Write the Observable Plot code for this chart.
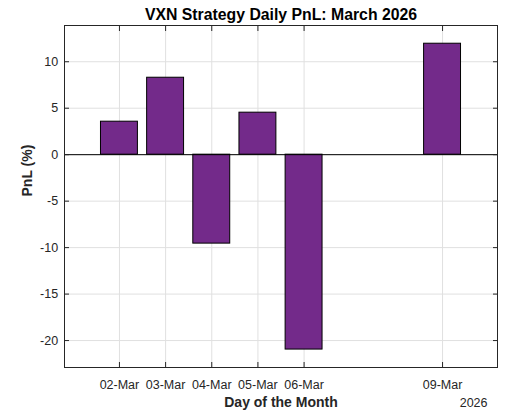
<!DOCTYPE html>
<html>
<head>
<meta charset="utf-8">
<script src="https://cdn.jsdelivr.net/npm/d3@7"></script>
<script src="https://cdn.jsdelivr.net/npm/@observablehq/plot@0.6"></script>
<style>
  html, body { margin: 0; padding: 0; background: #fff; }
  svg { display: block; }
</style>
</head>
<body>
<div id="chart"></div>
<script>
// ---- data ----
const days = ["2026-03-02", "2026-03-03", "2026-03-04", "2026-03-05", "2026-03-06", "2026-03-09"];
const pnl = [3.55, 8.28, -9.57, 4.52, -20.97, 11.94];
const yTicks = [-20, -15, -10, -5, 0, 5, 10];
const xDomain = ["2026-02-28T19:26Z", "2026-03-10T04:34Z"];
const yDomain = [-22.9, 13.9];
const title = "VXN Strategy Daily PnL: March 2026";
const xLabel = "Day of the Month";
const yLabel = "PnL (%)";
const yearLabel = "2026";

// ---- build ----
const toDate = (d) => new Date(d + "T00:00Z");
const data = days.map((d, i) => ({date: toDate(d), value: pnl[i]}));
const tickDates = days.map(toDate);
const halfBar = 0.4 * 864e5; // bar width = 0.8 day

const font = "'Liberation Sans', Arial, Helvetica, sans-serif";
const axisColor = "#262626";
const gridColor = "#e0e0e0";
const barColor = "#732a8a";

const chart = Plot.plot({
  width: 531,
  height: 413,
  marginTop: 25,
  marginRight: 34,
  marginBottom: 46,
  marginLeft: 64,
  style: {fontFamily: font, fontSize: "12.5px", color: axisColor, background: "#fff"},
  x: {type: "utc", domain: xDomain.map((d) => new Date(d))},
  y: {domain: yDomain},
  marks: [
    Plot.gridX(tickDates, {stroke: gridColor, strokeOpacity: 1}),
    Plot.gridY(yTicks, {stroke: gridColor, strokeOpacity: 1}),
    Plot.rectY(data, {
      x1: (d) => new Date(+d.date - halfBar),
      x2: (d) => new Date(+d.date + halfBar),
      y: "value",
      fill: barColor,
      stroke: "#000",
      strokeWidth: 1
    }),
    Plot.ruleY([0], {stroke: "#000", strokeWidth: 1}),
    Plot.frame({stroke: axisColor, strokeWidth: 1}),
    Plot.axisX({ticks: tickDates, anchor: "bottom", tickSize: -5, tickPadding: 17.4,
      tickFormat: d3.utcFormat("%d-%b"), label: null, stroke: axisColor, fill: axisColor}),
    Plot.axisX({ticks: tickDates, anchor: "top", tickSize: -5, fill: "none", label: null, stroke: axisColor}),
    Plot.axisY({ticks: yTicks, anchor: "left", tickSize: -5, tickPadding: 11.3,
      tickFormat: (d) => String(d), label: null, stroke: axisColor, fill: axisColor}),
    Plot.axisY({ticks: yTicks, anchor: "right", tickSize: -5, fill: "none", label: null, stroke: axisColor}),
    Plot.text([title], {frameAnchor: "top", dy: -10.7, lineAnchor: "middle",
      fontSize: 15.8, fontWeight: "bold", fill: "#000"}),
    Plot.text([xLabel], {frameAnchor: "bottom", dy: 35.2, lineAnchor: "middle",
      fontSize: 14, fontWeight: "bold", fill: axisColor}),
    Plot.text([yearLabel], {frameAnchor: "bottom-right", dx: -10, dy: 35, lineAnchor: "middle",
      textAnchor: "end", fontSize: 12.5, fill: axisColor}),
    Plot.text([yLabel], {frameAnchor: "left", dx: -37.3, rotate: -90, lineAnchor: "middle",
      fontSize: 14, fontWeight: "bold", fill: axisColor})
  ]
});

document.getElementById("chart").appendChild(chart);
</script>
</body>
</html>
